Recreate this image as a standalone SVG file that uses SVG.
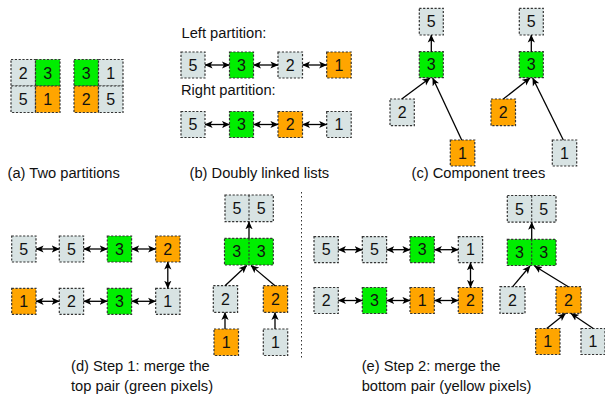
<svg xmlns="http://www.w3.org/2000/svg" width="605" height="398" viewBox="0 0 605 398">
  <style>
    .box { stroke: #333; stroke-width: 1.2; stroke-dasharray: 2.2 1.6; }
    .g { fill: #d8e3e3; }
    .gr { fill: #00ee00; }
    .o { fill: #ffa500; }
    .div { stroke: #333; stroke-width: 1.1; stroke-dasharray: 2.2 1.6; fill: none; }
    .lbl { font-family: "Liberation Sans", Arial, sans-serif; font-size: 16px; fill: #111; text-anchor: middle; }
    .cap { font-family: "Liberation Sans", Arial, sans-serif; font-size: 14.7px; fill: #111; }
    .arr { stroke: #000; stroke-width: 1.3; fill: none; marker-end: url(#head); }
    .bi { stroke: #000; stroke-width: 1.3; fill: none; marker-end: url(#head); marker-start: url(#head); }
    .sep { stroke: #333; stroke-width: 1; stroke-dasharray: 1.5 2.5; fill: none; }
  </style>
  <defs>
    <marker id="head" viewBox="0 0 10 10" markerWidth="8" markerHeight="8" markerUnits="userSpaceOnUse" refX="9.5" refY="5" orient="auto-start-reverse">
      <path d="M0,0.5 L10,5 L0,9.5 L2.5,5 z" fill="#000"/>
    </marker>
  </defs>

  <!-- (a) two partitions -->
  <g id="partition-left">
    <rect class="box g" x="11" y="59.5" width="24.5" height="26.5"/>
    <rect class="box gr" x="35.5" y="59.5" width="24.5" height="26.5"/>
    <rect class="box g" x="11" y="86" width="24.5" height="26.5"/>
    <rect class="box o" x="35.5" y="86" width="24.5" height="26.5"/>
    <text class="lbl" x="23.2" y="78.5">2</text>
    <text class="lbl" x="47.7" y="78.5">3</text>
    <text class="lbl" x="23.2" y="105">5</text>
    <text class="lbl" x="47.7" y="105">1</text>
  </g>
  <g id="partition-right">
    <rect class="box gr" x="74" y="59.5" width="24.5" height="26.5"/>
    <rect class="box g" x="98.5" y="59.5" width="24.5" height="26.5"/>
    <rect class="box o" x="74" y="86" width="24.5" height="26.5"/>
    <rect class="box g" x="98.5" y="86" width="24.5" height="26.5"/>
    <text class="lbl" x="86.2" y="78.5">3</text>
    <text class="lbl" x="110.7" y="78.5">1</text>
    <text class="lbl" x="86.2" y="105">2</text>
    <text class="lbl" x="110.7" y="105">5</text>
  </g>

  <!-- (b) doubly linked lists -->
  <text class="cap" x="181.5" y="38.3">Left partition:</text>
  <text class="cap" x="181" y="95.3">Right partition:</text>
  <g id="b-l5"><rect class="box g" x="181" y="52" width="24" height="26"/><text class="lbl" x="193" y="70.7">5</text></g>
  <g id="b-l3"><rect class="box gr" x="229.5" y="52" width="24" height="26"/><text class="lbl" x="241.5" y="70.7">3</text></g>
  <g id="b-l2"><rect class="box g" x="278" y="52" width="24.5" height="26"/><text class="lbl" x="290.2" y="70.7">2</text></g>
  <g id="b-l1"><rect class="box o" x="326.7" y="52" width="24.5" height="26"/><text class="lbl" x="339" y="70.7">1</text></g>
  <g id="b-r5"><rect class="box g" x="181" y="111.5" width="24" height="26"/><text class="lbl" x="193" y="130.2">5</text></g>
  <g id="b-r3"><rect class="box gr" x="229.5" y="111.5" width="24" height="26"/><text class="lbl" x="241.5" y="130.2">3</text></g>
  <g id="b-r2"><rect class="box o" x="278" y="111.5" width="24.5" height="26"/><text class="lbl" x="290.2" y="130.2">2</text></g>
  <g id="b-r1"><rect class="box g" x="326.7" y="111.5" width="24.5" height="26"/><text class="lbl" x="339" y="130.2">1</text></g>

  <!-- (c) component trees -->
  <g id="c-l5"><rect class="box g" x="419.3" y="8.3" width="24" height="26.7"/><text class="lbl" x="431.3" y="27.4">5</text></g>
  <g id="c-l3"><rect class="box gr" x="419.3" y="51.7" width="24" height="26"/><text class="lbl" x="431.3" y="70.4">3</text></g>
  <g id="c-l2"><rect class="box g" x="390" y="99" width="24.3" height="26.7"/><text class="lbl" x="402.1" y="118.1">2</text></g>
  <g id="c-l1"><rect class="box o" x="450.3" y="140" width="24.5" height="26"/><text class="lbl" x="462.5" y="158.8">1</text></g>
  <g id="c-r5"><rect class="box g" x="519.3" y="8.3" width="24" height="26.7"/><text class="lbl" x="531.3" y="27.4">5</text></g>
  <g id="c-r3"><rect class="box gr" x="519.3" y="51.7" width="24" height="26"/><text class="lbl" x="531.3" y="70.4">3</text></g>
  <g id="c-r2"><rect class="box o" x="491" y="99" width="24.5" height="26.7"/><text class="lbl" x="503.2" y="118.1">2</text></g>
  <g id="c-r1"><rect class="box g" x="552.3" y="140" width="24.4" height="26"/><text class="lbl" x="564.5" y="158.8">1</text></g>

  <!-- (d) step 1 lists -->
  <g id="d-t5a"><rect class="box g" x="11.7" y="236" width="24.3" height="26"/><text class="lbl" x="23.8" y="254.7">5</text></g>
  <g id="d-t5b"><rect class="box g" x="59.3" y="236" width="24.3" height="26"/><text class="lbl" x="71.5" y="254.7">5</text></g>
  <g id="d-t3"><rect class="box gr" x="107.3" y="236" width="24.3" height="26"/><text class="lbl" x="119.5" y="254.7">3</text></g>
  <g id="d-t2"><rect class="box o" x="155.7" y="236" width="24.3" height="26"/><text class="lbl" x="167.8" y="254.7">2</text></g>
  <g id="d-b1"><rect class="box o" x="11.7" y="288.3" width="24.3" height="26"/><text class="lbl" x="23.8" y="307">1</text></g>
  <g id="d-b2"><rect class="box g" x="59.3" y="288.3" width="24.3" height="26"/><text class="lbl" x="71.5" y="307">2</text></g>
  <g id="d-b3"><rect class="box gr" x="107.3" y="288.3" width="24.3" height="26"/><text class="lbl" x="119.5" y="307">3</text></g>
  <g id="d-b1g"><rect class="box g" x="155.7" y="288.3" width="24.3" height="26"/><text class="lbl" x="167.8" y="307">1</text></g>

  <!-- (d) step 1 tree -->
  <g id="d-55">
    <rect class="box g" x="225" y="195" width="48.3" height="26.7"/>
    <line class="div" x1="249" y1="195" x2="249" y2="221.7"/>
    <text class="lbl" x="237" y="214">5</text><text class="lbl" x="261.2" y="214">5</text>
  </g>
  <g id="d-33">
    <rect class="box gr" x="224.5" y="238.3" width="48.8" height="26.7"/>
    <line class="div" x1="249" y1="238.3" x2="249" y2="265"/>
    <text class="lbl" x="236.8" y="257.3">3</text><text class="lbl" x="261.2" y="257.3">3</text>
  </g>
  <g id="d-2g"><rect class="box g" x="213.3" y="285.7" width="24.3" height="26.7"/><text class="lbl" x="225.5" y="304.7">2</text></g>
  <g id="d-2o"><rect class="box o" x="263.3" y="285.7" width="24.3" height="26.7"/><text class="lbl" x="275.5" y="304.7">2</text></g>
  <g id="d-1o"><rect class="box o" x="214" y="329" width="24.5" height="26.5"/><text class="lbl" x="226.2" y="348">1</text></g>
  <g id="d-1g"><rect class="box g" x="263.3" y="329" width="24.4" height="26.5"/><text class="lbl" x="275.5" y="348">1</text></g>

  <!-- (e) step 2 lists -->
  <g id="e-t5a"><rect class="box g" x="314" y="236.7" width="24.3" height="26"/><text class="lbl" x="326.2" y="255.4">5</text></g>
  <g id="e-t5b"><rect class="box g" x="362.3" y="236.7" width="24.3" height="26"/><text class="lbl" x="374.5" y="255.4">5</text></g>
  <g id="e-t3"><rect class="box gr" x="410" y="236.7" width="24.3" height="26"/><text class="lbl" x="422.2" y="255.4">3</text></g>
  <g id="e-t1"><rect class="box g" x="458.3" y="236.7" width="24.3" height="26"/><text class="lbl" x="470.5" y="255.4">1</text></g>
  <g id="e-b2"><rect class="box g" x="314" y="287.5" width="24.3" height="26"/><text class="lbl" x="326.2" y="306.2">2</text></g>
  <g id="e-b3"><rect class="box gr" x="362.3" y="287.5" width="24.3" height="26"/><text class="lbl" x="374.5" y="306.2">3</text></g>
  <g id="e-b1"><rect class="box o" x="410" y="287.5" width="24.3" height="26"/><text class="lbl" x="422.2" y="306.2">1</text></g>
  <g id="e-b2o"><rect class="box o" x="458.3" y="287.5" width="24.3" height="26"/><text class="lbl" x="470.5" y="306.2">2</text></g>

  <!-- (e) step 2 tree -->
  <g id="e-55">
    <rect class="box g" x="507.3" y="195.5" width="48.7" height="26.7"/>
    <line class="div" x1="531.7" y1="195.5" x2="531.7" y2="222.2"/>
    <text class="lbl" x="519.5" y="214.5">5</text><text class="lbl" x="543.8" y="214.5">5</text>
  </g>
  <g id="e-33">
    <rect class="box gr" x="507.3" y="239.3" width="48.7" height="26.2"/>
    <line class="div" x1="531.7" y1="239.3" x2="531.7" y2="265.5"/>
    <text class="lbl" x="519.5" y="258">3</text><text class="lbl" x="543.8" y="258">3</text>
  </g>
  <g id="e-2g"><rect class="box g" x="500" y="286.7" width="25" height="26.6"/><text class="lbl" x="512.5" y="305.7">2</text></g>
  <g id="e-2o"><rect class="box o" x="556" y="286.7" width="25" height="26.6"/><text class="lbl" x="568.5" y="305.7">2</text></g>
  <g id="e-1o"><rect class="box o" x="535.7" y="328.5" width="24.3" height="26"/><text class="lbl" x="547.8" y="347.2">1</text></g>
  <g id="e-1g"><rect class="box g" x="581" y="328.5" width="24" height="26"/><text class="lbl" x="593" y="347.2">1</text></g>

  <!-- connectors -->
  <g id="connectors">
    <!-- (b) -->
    <line class="bi" x1="205" y1="65" x2="229.5" y2="65"/>
    <line class="bi" x1="253.5" y1="65" x2="278" y2="65"/>
    <line class="bi" x1="302.5" y1="65" x2="326.7" y2="65"/>
    <line class="bi" x1="205" y1="124.5" x2="229.5" y2="124.5"/>
    <line class="bi" x1="253.5" y1="124.5" x2="278" y2="124.5"/>
    <line class="bi" x1="302.5" y1="124.5" x2="326.7" y2="124.5"/>
    <!-- (c) -->
    <line class="arr" x1="431.3" y1="51.7" x2="431.3" y2="35"/>
    <line class="arr" x1="401.7" y1="99" x2="430" y2="78"/>
    <line class="arr" x1="461.7" y1="140" x2="432.7" y2="78"/>
    <line class="arr" x1="531.3" y1="51.7" x2="531.3" y2="35"/>
    <line class="arr" x1="503.3" y1="99" x2="530" y2="78"/>
    <line class="arr" x1="563.3" y1="140" x2="532.7" y2="78"/>
    <!-- (d) lists -->
    <line class="bi" x1="36" y1="249" x2="59.3" y2="249"/>
    <line class="bi" x1="83.6" y1="249" x2="107.3" y2="249"/>
    <line class="bi" x1="131.6" y1="249" x2="155.7" y2="249"/>
    <line class="bi" x1="167.8" y1="262" x2="167.8" y2="288.3"/>
    <line class="bi" x1="36" y1="301.3" x2="59.3" y2="301.3"/>
    <line class="bi" x1="83.6" y1="301.3" x2="107.3" y2="301.3"/>
    <line class="bi" x1="131.6" y1="301.3" x2="155.7" y2="301.3"/>
    <!-- (d) tree -->
    <line class="arr" x1="249" y1="238.3" x2="249" y2="221.7"/>
    <line class="arr" x1="225" y1="285.7" x2="246.7" y2="265.5"/>
    <line class="arr" x1="275" y1="285.7" x2="251" y2="265.5"/>
    <line class="arr" x1="225" y1="329" x2="225" y2="312.4"/>
    <line class="arr" x1="275" y1="329" x2="275" y2="312.4"/>
    <!-- (e) lists -->
    <line class="bi" x1="338.3" y1="249.7" x2="362.3" y2="249.7"/>
    <line class="bi" x1="386.6" y1="249.7" x2="410" y2="249.7"/>
    <line class="bi" x1="434.3" y1="249.7" x2="458.3" y2="249.7"/>
    <line class="bi" x1="470.5" y1="262.7" x2="470.5" y2="287.5"/>
    <line class="bi" x1="338.3" y1="300.5" x2="362.3" y2="300.5"/>
    <line class="bi" x1="386.6" y1="300.5" x2="410" y2="300.5"/>
    <line class="bi" x1="434.3" y1="300.5" x2="458.3" y2="300.5"/>
    <!-- (e) tree -->
    <line class="arr" x1="531.7" y1="239.3" x2="531.7" y2="222.2"/>
    <line class="arr" x1="512.7" y1="286.7" x2="530" y2="266"/>
    <line class="arr" x1="568.3" y1="286.7" x2="534.5" y2="266"/>
    <line class="arr" x1="546.7" y1="328.5" x2="565.5" y2="313.5"/>
    <line class="arr" x1="593.3" y1="328.5" x2="571" y2="313.5"/>
  </g>

  <!-- separator between step 1 and step 2 -->
  <line class="sep" x1="301.5" y1="192" x2="301.5" y2="359"/>

  <!-- captions -->
  <text class="cap" x="7.5" y="177.5">(a) Two partitions</text>
  <text class="cap" x="189.5" y="177.5">(b) Doubly linked lists</text>
  <text class="cap" x="411.5" y="177.5">(c) Component trees</text>
  <text class="cap" x="71" y="371.3">(d) Step 1: merge the</text>
  <text class="cap" x="71" y="390.7">top pair (green pixels)</text>
  <text class="cap" x="361.7" y="371.3">(e) Step 2: merge the</text>
  <text class="cap" x="361.7" y="390.7">bottom pair (yellow pixels)</text>
</svg>
